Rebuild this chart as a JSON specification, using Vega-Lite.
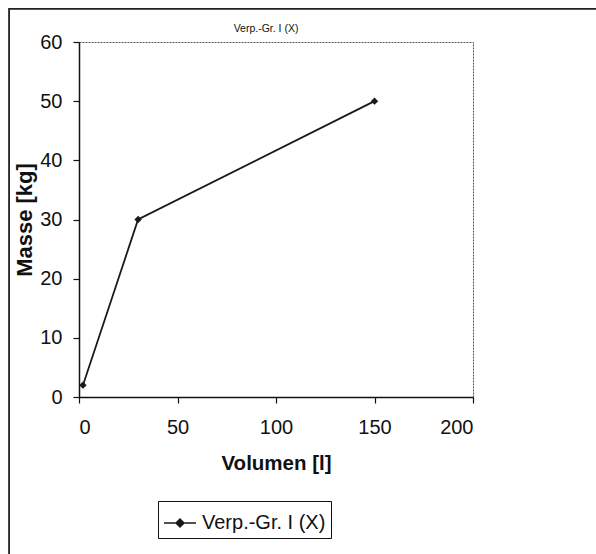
{
  "$schema": "https://vega.github.io/schema/vega-lite/v6.json",
  "width": 394,
  "height": 355,
  "autosize": {"type": "none"},
  "padding": {"left": 79, "top": 42, "right": 123, "bottom": 157},
  "background": "white",
  "title": {"text": "Verp.-Gr. I (X)", "fontSize": 10.5, "font": "Liberation Sans", "fontWeight": "normal", "color": "#111", "anchor": "middle", "offset": -27, "dx": -10},
  "datasets": {
    "pts": [
      {"Volumen": 2, "Masse": 2, "Serie": "Verp.-Gr. I (X)"},
      {"Volumen": 30, "Masse": 30, "Serie": "Verp.-Gr. I (X)"},
      {"Volumen": 150, "Masse": 50, "Serie": "Verp.-Gr. I (X)"}
    ],
    "frame": [{"x1": -35.5, "x2": 270, "y1": 65.6, "y2": -40}]
  },
  "layer": [
    {
      "data": {"name": "frame"},
      "mark": {"type": "rect", "fill": null, "stroke": "#222", "strokeWidth": 1.8, "clip": false},
      "encoding": {
        "x": {"field": "x1", "type": "quantitative", "scale": {"domain": [0, 200]}},
        "x2": {"field": "x2"},
        "y": {"field": "y1", "type": "quantitative", "scale": {"domain": [0, 60]}},
        "y2": {"field": "y2"}
      }
    },
    {
      "data": {"name": "pts"},
      "mark": {"type": "line", "strokeWidth": 1.8, "point": {"shape": "diamond", "filled": true, "size": 55}},
      "encoding": {
        "x": {"field": "Volumen", "type": "quantitative", "scale": {"domain": [0, 200], "nice": false},
          "axis": {"title": "Volumen [l]", "values": [0, 50, 100, 150, 200], "labelPadding": 14, "titlePadding": 16, "titleFontSize": 20.5}},
        "y": {"field": "Masse", "type": "quantitative", "scale": {"domain": [0, 60], "nice": false},
          "axis": {"title": "Masse [kg]", "values": [0, 10, 20, 30, 40, 50, 60], "labelPadding": 11, "titlePadding": 3, "titleFontSize": 22}},
        "color": {"field": "Serie", "type": "nominal", "scale": {"range": ["#1a1a1a"]},
          "legend": {"title": null, "orient": "none", "legendX": 79, "legendY": 459,
            "strokeColor": "#111", "padding": 5,
            "symbolType": "M-1,0H1M-0.25,0L0,-0.25L0.25,0L0,0.25Z",
            "symbolSize": 1024, "symbolStrokeWidth": 1.5, "symbolFillColor": "#1a1a1a", "symbolStrokeColor": "#1a1a1a",
            "labelFontSize": 20, "labelFont": "Liberation Sans", "labelColor": "#111", "labelOffset": 5}}
      }
    }
  ],
  "config": {
    "view": {"stroke": "#555", "strokeDash": [2, 1], "strokeWidth": 1},
    "axis": {
      "grid": false,
      "domainColor": "#111",
      "domainWidth": 1.5,
      "tickColor": "#111",
      "tickSize": 6,
      "tickWidth": 1.2,
      "labelFont": "Liberation Sans",
      "labelFontSize": 20,
      "labelColor": "#111",
      "titleFont": "Liberation Sans",
      "titleFontWeight": "bold",
      "titleColor": "#111"
    }
  }
}
